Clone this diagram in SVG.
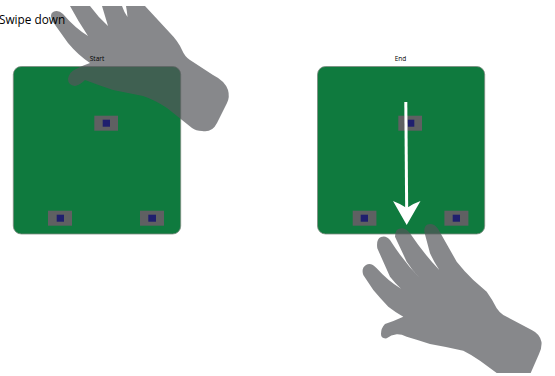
<svg xmlns="http://www.w3.org/2000/svg" width="555" height="376" viewBox="0 0 555 376">
<style>
.board{fill:#0f7a3e;stroke:#7d8a80;stroke-width:.8}
.chip{fill:#5f6062}
.die{fill:#1f1f6e}
.hand{fill:#54555a;fill-opacity:.7}
.cap{font-family:"Open Sans","Liberation Sans",sans-serif;font-size:6.5px;fill:#000;text-anchor:middle}
.title{font-family:"Open Sans","Liberation Sans",sans-serif;font-size:11.8px;fill:#000}
</style>
<g id="start-board">
<rect class="board" x="13.3" y="66.5" width="167.4" height="167.5" rx="8"/>
<rect class="chip" x="94.3" y="115.7" width="23.7" height="15"/><rect class="die" x="102.7" y="119.7" width="7.3" height="7"/>
<rect class="chip" x="48" y="210.7" width="24" height="15"/><rect class="die" x="56.7" y="214.7" width="7.3" height="7"/>
<rect class="chip" x="140" y="210.7" width="24" height="15"/><rect class="die" x="148.3" y="214.7" width="7.7" height="7"/>
</g>
<g id="end-board">
<rect class="board" x="317.5" y="66.5" width="167.2" height="167.5" rx="8"/>
<rect class="chip" x="398.3" y="115.7" width="23.7" height="15"/><rect class="die" x="407.7" y="119.7" width="6.6" height="7"/>
<rect class="chip" x="352.7" y="210.7" width="23.7" height="15"/><rect class="die" x="360.7" y="214.7" width="7.3" height="7"/>
<rect class="chip" x="444.4" y="210.7" width="24" height="15"/><rect class="die" x="452.7" y="214.7" width="7.3" height="7"/>
</g>
<g id="start-hand">
<path class="hand" d="M70 6L90 6Q98 17 108 26Q105 16 102 6L122 6Q124 12 127.500 17Q127 11 126 6L145 6Q158 20 170 33Q178 41 182 50Q185 57 190 60L213 75Q225 81 228 90Q230 97 227 103L217 123Q212 133 202 131Q196 131 192 128L167 108Q155 100 143 96Q128 93 113 90Q98 85 85 80Q80 85 75 86Q68 85 68 79Q69 72 76 69Q84 65 90 63Q78 55 68 43L53 22Q49 14 53 12Q58 9 63 14Q75 28 88 36Q78 21 70 6Z"/>
</g>
<g id="end-hand">
<path class="hand" d="M424.300 231.700Q424 224 430 224Q435 224 438.300 229.300L456.700 261.700Q464 271 473.300 280L486.700 291.700Q492 299 496.700 308.300Q499 312 503.300 315L531.700 330Q540 334 541.500 342Q542 348 539 354L530.700 373L496.700 373L480 360.700Q472 355 463.300 350.700Q447 347 430 344Q418 340 406.700 336.700Q401 334 396.700 334.300Q391 335 386.700 338.300Q381 339 381 334Q381 328 385 324Q394 321 403.300 316.700Q395 312 388.300 306.700Q380 298 373.300 290L363.300 275Q361 268 366 265Q371 262 376.700 268.300Q388 281 401 288.700Q395 283 390 276.700L377.300 248.300Q376 239 381 237Q386 235 390 240Q404 262 420 278.300Q412 270 406.700 261.700L395 236.700Q395 229 400 228.500Q405 227 410 233.300Q424 254 439.300 270Q434 262 430 253.300Z"/>
</g>
<g id="connectors">
<path d="M405.800 102L406.700 212" fill="none" stroke="#fff" stroke-width="3"/>
<path d="M393 201Q401 204 406.700 208Q412 204 420.500 201L406.700 225Z" fill="#fff"/>
</g>
<g id="labels">
<text class="title" x="-1" y="24">Swipe down</text>
<text class="cap" x="97" y="60.500">Start</text>
<text class="cap" x="400.500" y="60.500">End</text>
</g>
</svg>
